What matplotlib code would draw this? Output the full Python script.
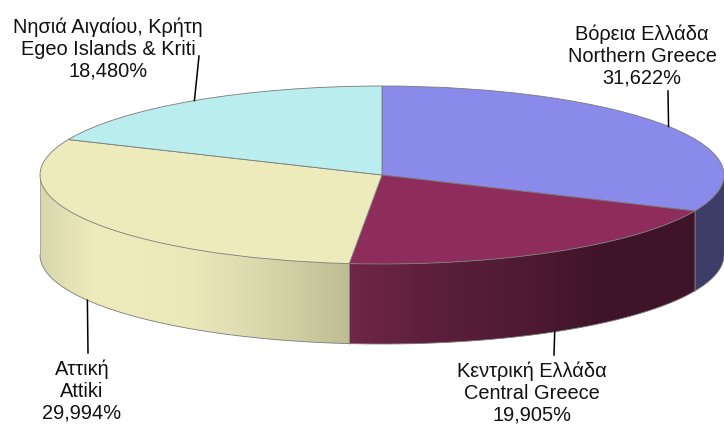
import numpy as np
import matplotlib
matplotlib.use('Agg')
import matplotlib.pyplot as plt
from matplotlib.colors import LinearSegmentedColormap
from matplotlib.patches import Polygon

plt.rcParams['font.family'] = ['Liberation Sans', 'DejaVu Sans']

# values, clockwise from the top of the pie
names_gr = ['Βόρεια Ελλάδα', 'Κεντρική Ελλάδα', 'Αττική', 'Νησιά Αιγαίου, Κρήτη']
names_en = ['Northern Greece', 'Central Greece', 'Attiki', 'Egeo Islands & Kriti']
shares = [31.622, 19.905, 29.994, 18.480]
pct_labels = ['31,622%', '19,905%', '29,994%', '18,480%']
top_colors = ['#8A8AEB', '#8E2D5C', '#EDEBBB', '#BAEDED']
# side colours go left to right across each slice
side_colors = [
    ['#3E3D68', '#3E3D68'],
    ['#702647', '#5C1F3B', '#4F1A33', '#3F1428', '#3F1428'],
    ['#D8D7AD', '#EDEBBB', '#EDEBBB', '#EAE8B9', '#DDDBB0', '#CFCDA2', '#BDBC93'],
    ['#BAEDED', '#BAEDED'],
]

# label centre (pixels) and where the leader line stops
label_pos = [(642, 56), (532, 393), (82, 391), (108, 49)]
leader_end = [(668, 91), (554, 355), (88, 353), (199, 56)]

CX, CY, RX, RY, DEPTH = 382, 175, 342, 89, 80


def dx(px):
    return (px - CX) / RX


def dy(py):
    return (CY - py) / RY


fig = plt.figure(figsize=(7.24, 4.26), dpi=100)
ax = fig.add_axes([0, 0, 1, 1])

wedges, _ = ax.pie(shares, colors=top_colors, startangle=90, counterclock=False,
                   radius=1, wedgeprops={'edgecolor': '#7A7A7A', 'linewidth': 0.6, 'zorder': 5})

d = DEPTH / RY
fracs = np.cumsum([0] + shares) / sum(shares)
a_start = 90 - 360 * fracs[:-1]
a_end = 90 - 360 * fracs[1:]

# side wall, only the front half shows
for i in range(len(shares)):
    a1 = min(a_start[i], 0)
    a2 = max(a_end[i], -180)
    if a1 <= a2:
        continue
    t = np.radians(np.linspace(a1, a2, 120))
    xs = np.cos(t)
    ys = np.sin(t)
    pts = np.column_stack([np.r_[xs, xs[::-1]], np.r_[ys, ys[::-1] - d]])
    cmap = LinearSegmentedColormap.from_list('side%d' % i, side_colors[i])
    grad = np.linspace(0, 1, 256)[None, :]
    im = ax.imshow(grad, cmap=cmap, aspect='auto', zorder=2,
                   extent=(xs.min(), xs.max(), ys.min() - d, ys.max()))
    clip = Polygon(pts, closed=True, transform=ax.transData)
    im.set_clip_path(clip)
    ax.plot(xs, ys - d, color='#7A7A7A', lw=0.6, zorder=3)
    ax.plot([xs[-1], xs[-1]], [ys[-1], ys[-1] - d], color='#8A8A8A', lw=0.4, zorder=3)

# leader lines start at the middle of each slice
for i in range(len(shares)):
    mid = np.radians((a_start[i] + a_end[i]) / 2)
    x0 = np.cos(mid)
    y0 = np.sin(mid)
    if y0 < 0:
        y0 = y0 - d
    ax.plot([x0, dx(leader_end[i][0])], [y0, dy(leader_end[i][1])],
            color='black', lw=1.1, zorder=6)
    ax.text(dx(label_pos[i][0]), dy(label_pos[i][1]),
            names_gr[i] + '\n' + names_en[i] + '\n' + pct_labels[i],
            ha='center', va='center', fontsize=14.4, color='#111111',
            linespacing=1.2, zorder=7)

ax.set_aspect('auto')
ax.set_xlim(dx(0), dx(724))
ax.set_ylim(dy(426), dy(0))
ax.axis('off')

fig.savefig('out.png', dpi=100)
